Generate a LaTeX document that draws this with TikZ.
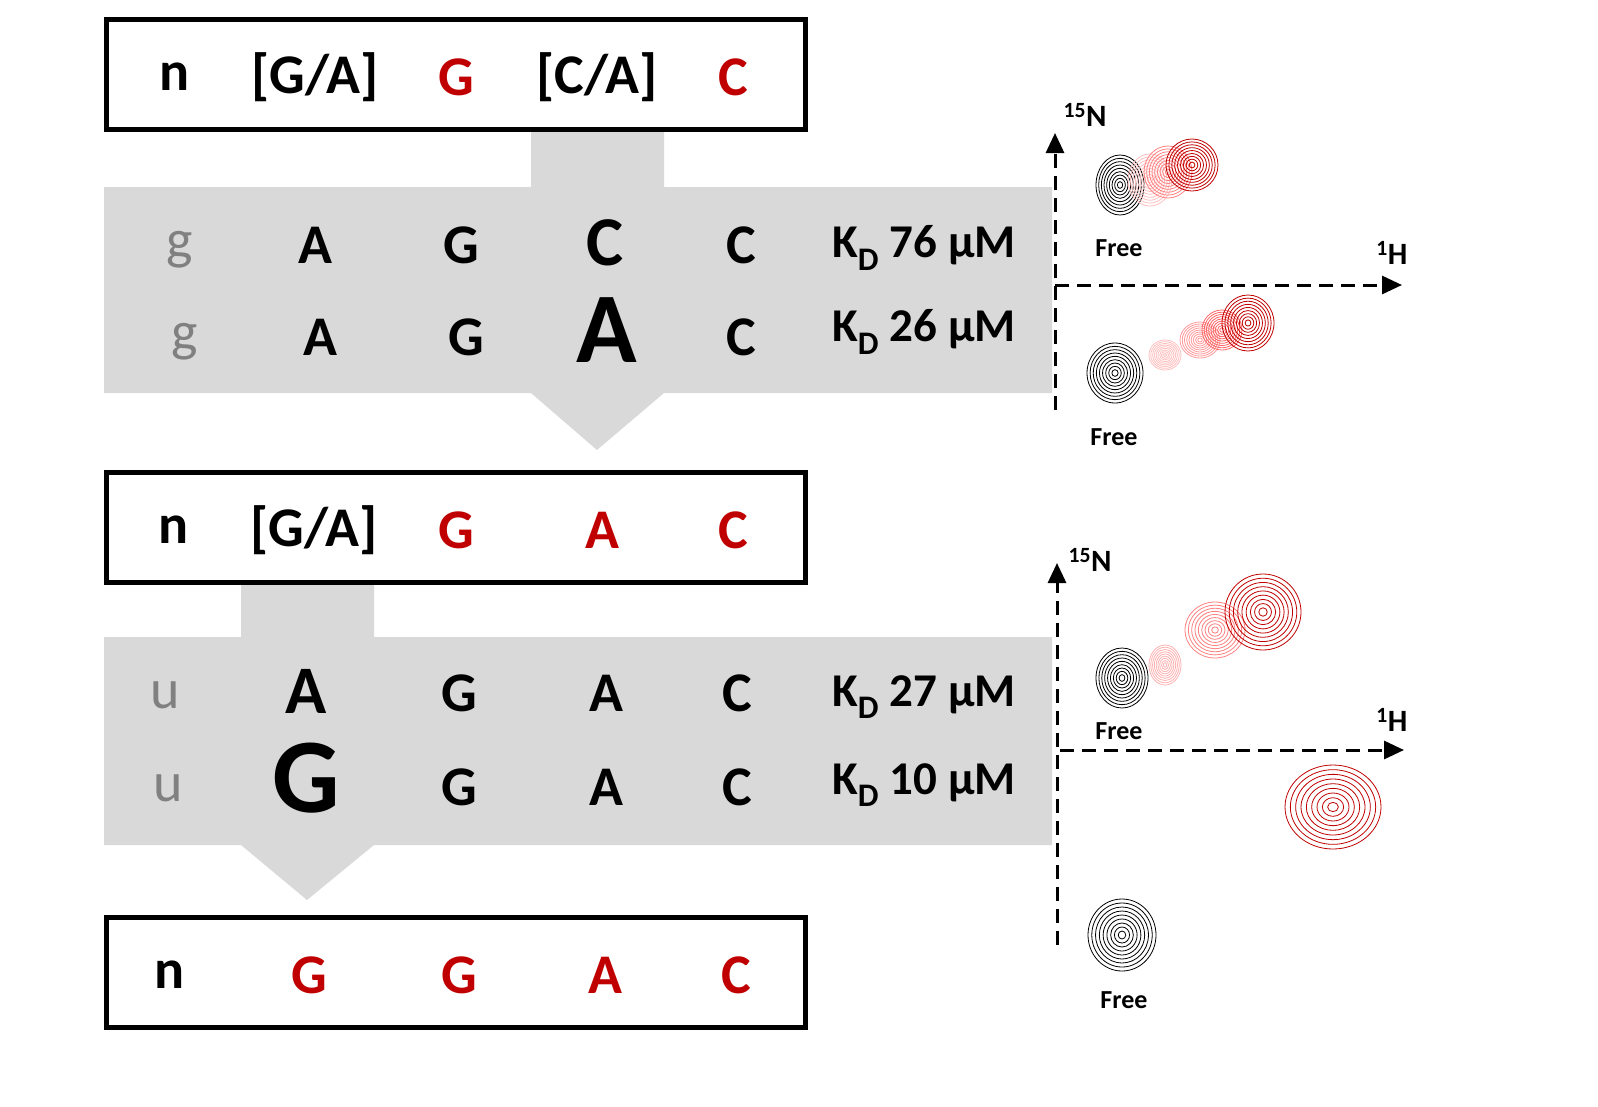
\documentclass[tikz,border=0pt]{standalone}
\usepackage{fontspec}
\setmainfont{Carlito}
\usetikzlibrary{arrows.meta}
\definecolor{rd}{RGB}{192,0,0}
\definecolor{band}{RGB}{217,217,217}
\definecolor{lg}{RGB}{128,128,128}
\newcommand{\fs}[1]{\fontsize{#1}{#1}\selectfont\bfseries}
\newcommand{\contour}[5]{% x y rx ry color
  \foreach \i in {1,...,9}{\draw[#5,line width=0.8pt] (#1,#2) ellipse ({#3*\i/9} and {#4*\i/9});}}
\begin{document}
\begin{tikzpicture}[x=1pt,y=-1pt,
  seq/.style={draw=black,line width=5pt,fill=white},
  t/.style={font=\fs{56},anchor=center,inner sep=0},
  kd/.style={font=\fs{47},anchor=west,inner sep=0},
  ax/.style={dashed,dash pattern=on 14pt off 8pt,line width=3pt,-{Triangle[length=20pt,width=18pt]}},
  lab/.style={font=\fs{31},inner sep=0},
  fr/.style={font=\fs{26},inner sep=0}]
\useasboundingbox (0,0) rectangle (1598,1106);
% band 1
\fill[band] (104,187) -- (531,187) -- (531,127) -- (664,127) -- (664,187) -- (1052,187) -- (1052,393) -- (664,393) -- (597,450) -- (531,393) -- (104,393) -- cycle;
% band 2
\fill[band] (104,637) -- (241,637) -- (241,580) -- (374,580) -- (374,637) -- (1052,637) -- (1052,845) -- (374,845) -- (307,900) -- (241,845) -- (104,845) -- cycle;
% boxes
\node[seq,minimum width=699pt,minimum height=110pt,anchor=north west] (b1) at (104,17) {};
\node[seq,minimum width=699pt,minimum height=110pt,anchor=north west] (b2) at (104,470) {};
\node[seq,minimum width=699pt,minimum height=110pt,anchor=north west] (b3) at (104,915) {};
% box1 text
\node[t] (a1) at (175,77) {n};
\node[t] (a2) at (315,77) {[G/A]};
\node[t,text=rd] (a3) at (456,77) {G};
\node[t] (a4) at (597,77) {[C/A]};
\node[t,text=rd] (a5) at (733,77) {C};
% rows 1-2
\node[t,text=lg,font=\fs{56}\mdseries] (r1a) at (180,250) {g};
\node[t] (r1b) at (315,245) {A};
\node[t] (r1c) at (461,245) {G};
\node[t,font=\fs{70}] (r1d) at (605,243) {C};
\node[t] (r1e) at (741,245) {C};
\node[kd] (k1) at (832,248) {K\textsubscript{D} 76 µM};
\node[t,text=lg,font=\fs{56}\mdseries] (r2a) at (185,342) {g};
\node[t] (r2b) at (320,337) {A};
\node[t] (r2c) at (466,337) {G};
\node[t,font=\fs{100}] (r2d) at (607,330) {A};
\node[t] (r2e) at (741,337) {C};
\node[kd] (k2) at (832,332) {K\textsubscript{D} 26 µM};
% box2 text
\node[t] (c1) at (174,530) {n};
\node[t] (c2) at (314,530) {[G/A]};
\node[t,text=rd] (c3) at (456,530) {G};
\node[t,text=rd] (c4) at (602,530) {A};
\node[t,text=rd] (c5) at (733,530) {C};
% rows 3-4
\node[t,text=lg,font=\fs{56}\mdseries] (r3a) at (165,695) {u};
\node[t,font=\fs{68}] (r3b) at (306,691) {A};
\node[t] (r3c) at (459,693) {G};
\node[t] (r3d) at (606,693) {A};
\node[t] (r3e) at (737,693) {C};
\node[kd] (k3) at (832,697) {K\textsubscript{D} 27 µM};
\node[t,text=lg,font=\fs{56}\mdseries] (r4a) at (168,788) {u};
\node[t,font=\fs{106}] (r4b) at (306,778) {G};
\node[t] (r4c) at (459,787) {G};
\node[t] (r4d) at (606,787) {A};
\node[t] (r4e) at (737,787) {C};
\node[kd] (k4) at (832,785) {K\textsubscript{D} 10 µM};
% box3 text
\node[t] (d1) at (170,975) {n};
\node[t,text=rd] (d2) at (309,975) {G};
\node[t,text=rd] (d3) at (459,975) {G};
\node[t,text=rd] (d4) at (605,975) {A};
\node[t,text=rd] (d5) at (736,975) {C};
% plot 1
\coordinate (v1s) at (1055,410); \coordinate (v1e) at (1055,133);
\coordinate (h1s) at (1055,285); \coordinate (h1e) at (1402,285);
\draw[ax] (v1s) -- (v1e);
\draw[ax] (h1s) -- (h1e);
\node[lab] (n1) at (1085,115) {\textsuperscript{15}N};
\node[lab] (h1) at (1392,253) {\textsuperscript{1}H};
\contour{1120}{185}{24}{30}{black}
\contour{1150}{180}{22}{26}{red!25}
\contour{1168}{172}{24}{26}{red!50}
\contour{1192}{165}{26}{26}{rd}
\node[fr] (f1) at (1119,248) {Free};
\contour{1115}{373}{28}{30}{black}
\contour{1165}{355}{16}{15}{red!25}
\contour{1200}{340}{20}{18}{red!40}
\contour{1222}{330}{20}{20}{red!60}
\contour{1248}{323}{26}{28}{rd}
\node[fr] (f2) at (1114,437) {Free};
% plot 2
\coordinate (v2s) at (1057,945); \coordinate (v2e) at (1057,563);
\coordinate (h2s) at (1060,750); \coordinate (h2e) at (1404,750);
\draw[ax] (v2s) -- (v2e);
\draw[ax] (h2s) -- (h2e);
\node[lab] (n2) at (1090,560) {\textsuperscript{15}N};
\node[lab] (h2) at (1392,720) {\textsuperscript{1}H};
\contour{1122}{678}{26}{30}{black}
\contour{1165}{665}{16}{20}{red!30}
\contour{1215}{630}{30}{28}{red!50}
\contour{1263}{612}{38}{38}{rd}
\node[fr] (f3) at (1119,731) {Free};
\contour{1333}{807}{48}{42}{rd}
\contour{1122}{935}{34}{36}{black}
\node[fr] (f4) at (1124,1000) {Free};
\end{tikzpicture}
\end{document}
